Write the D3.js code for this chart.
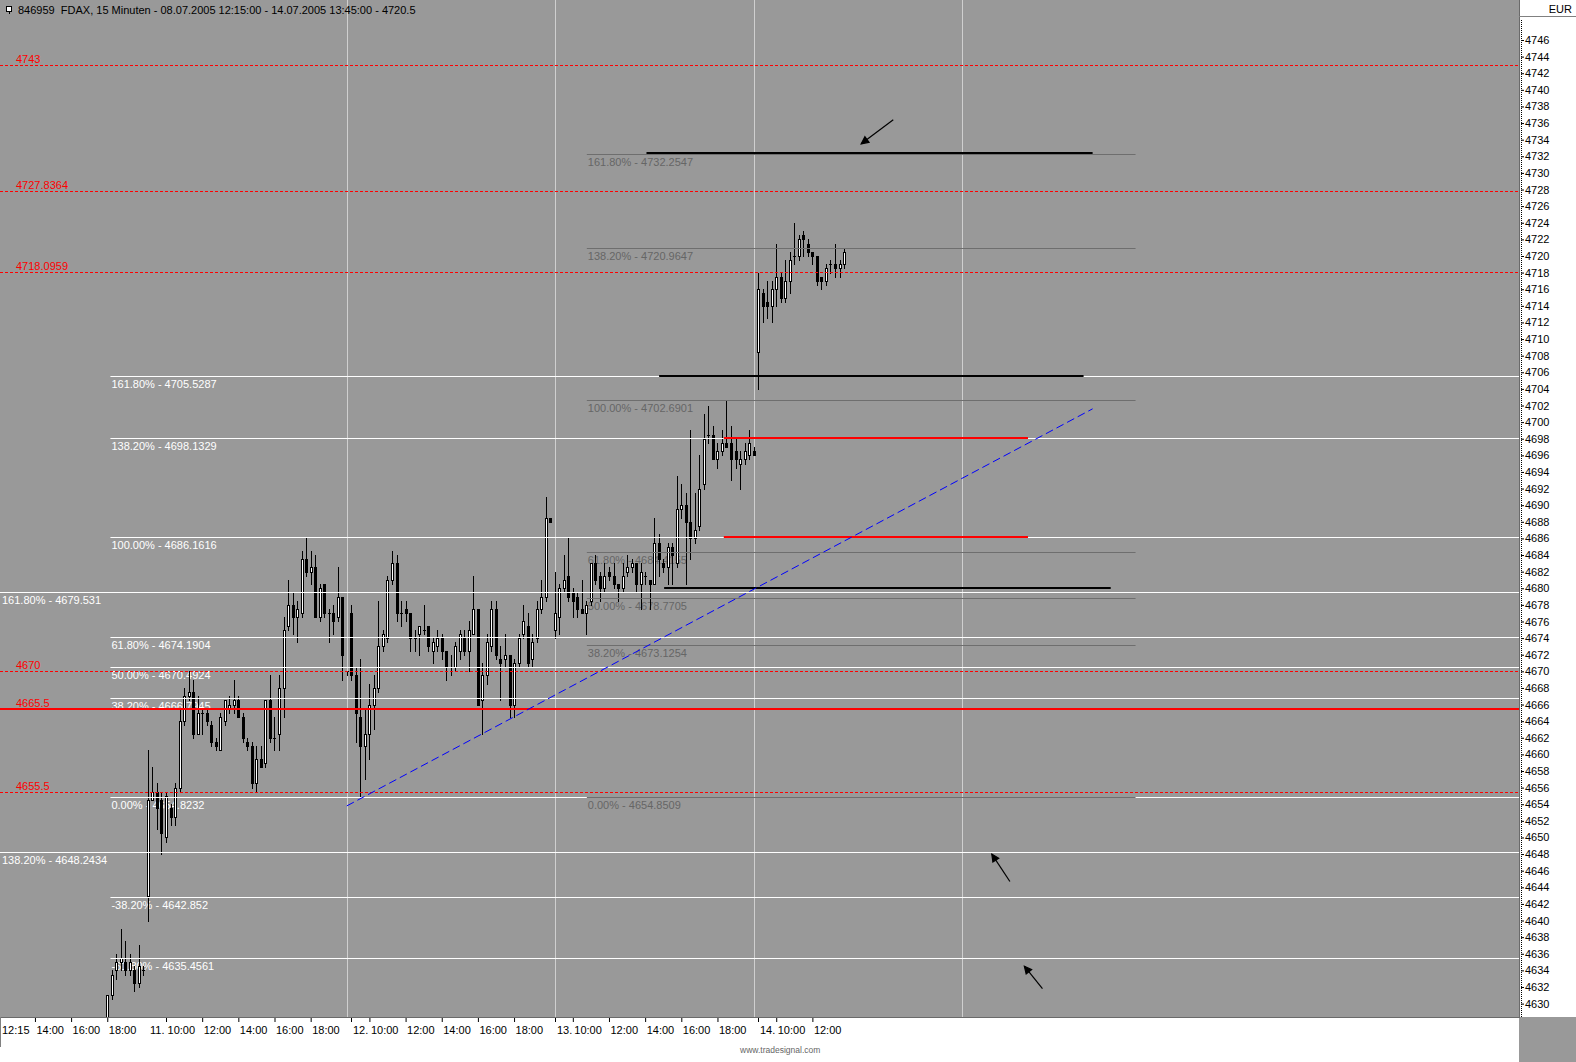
<!DOCTYPE html>
<html>
<head>
<meta charset="utf-8">
<script src="https://cdn.jsdelivr.net/npm/d3@7"></script>
<style>
html, body { margin: 0; padding: 0; background: #fff; overflow: hidden; }
svg { display: block; font-family: "Liberation Sans", Arial, sans-serif; }
</style>
</head>
<body>
<div class="chart"></div>
<script>
//----Data----
// 15 minute FDAX bars as [open, high, low, close]
// bar index 0 = 08.07 12:15, a full session is 09:00 - 20:00 (45 bars)
const firstBar = 23; // 08.07 18:00, earlier bars are below the visible range

const day08 = [
  [4627.5,4631,4625.5,4631],[4631,4634,4630.5,4633.5],[4634,4636,4633,4635],[4635,4639,4634,4635.5],
  [4635,4637.5,4633.5,4634],[4634,4636,4633.5,4635],[4634,4634.5,4631.5,4632.5],[4632.5,4637,4632,4634.5],
  [4634,4634.5,4633.5,4634]
];
const day11 = [
  [4643,4660.5,4640,4654.5],[4654.5,4658.5,4654.5,4655.5],[4655.5,4656.5,4651,4653.5],[4654.5,4655.5,4648,4650.5],
  [4650,4655.5,4649.5,4655],[4653.5,4654,4651.5,4652.5],[4652.5,4656.5,4651.5,4656],[4656,4665.5,4655.5,4664],
  [4664,4668,4663.5,4667],[4667,4670,4666.5,4667.5],[4667.5,4669,4662,4662.5],[4662.5,4667,4662.5,4665],
  [4665,4665.5,4662.5,4665],[4665,4665.5,4663.5,4664],[4663.5,4664,4661,4661.5],[4661.5,4662,4660.5,4661],
  [4660.5,4665,4660.5,4664.5],[4664,4666.5,4663.5,4666.5],[4665.5,4667,4665,4666],[4666,4669,4665,4666.5],
  [4666.5,4667,4664.5,4664.5],[4664.5,4665,4661.5,4662],[4661.5,4662,4660.5,4661],[4661,4661.5,4656,4656.5],
  [4656.5,4661,4655.5,4659.5],[4659.5,4661,4658.5,4658.5],[4659,4666.5,4658.5,4666.5],[4666.5,4669.5,4661.5,4662],
  [4662,4664.5,4660.5,4662],[4662.5,4669.5,4660.5,4668],[4668,4676.5,4664.5,4675],[4675.5,4681,4675,4678],
  [4678,4679.5,4674.5,4676.5],[4676.5,4678.5,4673.5,4677.5],[4677,4684.5,4676.5,4683.5],[4683.5,4686,4681.5,4682],
  [4682,4684.5,4680.5,4682.5],[4682.5,4684,4676.5,4676.5],[4676.5,4680.5,4676,4680],[4680.5,4680.5,4676.5,4677],
  [4677,4677.5,4673.5,4677],[4677,4678,4674.5,4676],[4676.5,4682.5,4676,4679],[4679,4679,4669,4672],
  [4670,4670,4669.5,4670]
];
const day12 = [
  [4677,4678,4669,4669.5],[4669.5,4670.5,4661.5,4665],[4664.5,4671.5,4655,4661],[4661,4665.5,4657,4662.5],
  [4662.5,4668.5,4659.5,4666],[4666,4669.5,4663,4668],[4668,4678.5,4667.5,4673],[4673,4675,4672.5,4674.5],
  [4674,4681.5,4673.5,4681],[4681,4684.5,4680.5,4683],[4683,4684,4676,4677],[4677,4678.5,4675.5,4677],
  [4677.5,4678.5,4676,4677],[4677,4677,4672.5,4674],[4674,4675,4672.5,4674],[4674.5,4675.5,4672,4675.5],
  [4675,4678,4674.5,4675],[4675.5,4675.5,4672.5,4673],[4672.5,4674,4671,4673.5],[4673,4675,4672.5,4674],
  [4674,4674.5,4671.5,4672.5],[4672.5,4672.5,4669,4670.5],[4670.5,4672,4669.5,4670.5],[4670.5,4673.5,4670,4673],
  [4672.5,4675,4671.5,4674.5],[4674,4675,4672,4672.5],[4672.5,4676,4670,4675],[4674.5,4681.5,4674.5,4677.5],
  [4677.5,4677.5,4666,4666],[4666.5,4671,4662.5,4669.5],[4669.5,4674.5,4668.5,4673.5],[4673,4678.5,4672.5,4677.5],
  [4677.5,4678.5,4671.5,4672],[4671.5,4673,4666.5,4671],[4671.5,4674.5,4670.5,4672],[4672,4672,4664.5,4666],
  [4666,4671.5,4664.5,4671],[4671,4674.5,4670.5,4674],[4674.5,4678,4674,4676],[4675.5,4677,4670.5,4671],
  [4671.5,4674.5,4670.5,4673.5],[4674,4678.5,4673.5,4677.5],[4677.5,4681,4677,4679],[4679,4691,4678.5,4688.5],
  [4688.5,4688.5,4688,4688]
];
const day13 = [
  [4675,4682,4674,4677],[4676.5,4680.5,4674.5,4680],[4680,4684,4679.5,4681],[4681.5,4686,4678.5,4679],
  [4679.5,4680,4676.5,4678.5],[4679,4679.5,4676.5,4677.5],[4677.5,4681,4677,4677],[4677,4678.5,4674.5,4678],
  [4678.5,4683,4678,4683],[4683,4684,4680.5,4681],[4681.5,4682,4678.5,4680],[4680,4683,4679.5,4681.5],
  [4682,4682.5,4681,4681.5],[4681.5,4683,4680,4680.5],[4680.5,4680.5,4678.5,4680],[4680,4683,4679.5,4681.5],
  [4682,4684,4681.5,4682.5],[4682.5,4683.5,4682,4683],[4683,4683,4679.5,4680.5],[4680.5,4683,4677.5,4682],
  [4681.5,4682,4680.5,4681.5],[4681,4681,4677.5,4680.5],[4680.5,4688.5,4680.5,4685.5],[4685.5,4686.5,4681.5,4683.5],
  [4683,4683.5,4682,4682.5],[4682.5,4685.5,4680.5,4685],[4685,4685.5,4680.5,4684],[4683,4693.5,4682.5,4689.5],
  [4689.5,4692.5,4688.5,4690],[4690,4691.5,4680.5,4688],[4688,4699,4683.5,4686],[4686,4691.5,4685.5,4687],
  [4687.5,4696,4687,4692],[4692.5,4701,4692,4698],[4698.5,4702,4697.5,4698.5],[4698.5,4699.5,4695.5,4695.5],
  [4695.5,4697.5,4694.5,4696.5],[4696.5,4699,4696,4697.5],[4697.5,4702.5,4697,4697],[4697.5,4699.5,4693,4695.5],
  [4696.5,4698,4694.5,4695.5],[4695,4696.5,4692,4695.5],[4695.5,4697.5,4695,4696.5],[4696,4699,4695.5,4697.5],
  [4696.5,4697,4696,4696]
];
const day14 = [
  [4708.5,4718,4704,4716],[4715.5,4716,4712,4714],[4714.5,4717,4712.5,4714],[4714,4717,4712,4716],
  [4716,4721.5,4714,4717.5],[4717.5,4718,4714.5,4715],[4715,4719.5,4714.5,4717],[4717,4720.5,4715.5,4719.5],
  [4720,4724,4719,4720],[4720,4722.5,4719.5,4722],[4722.5,4723,4720,4722],[4721.5,4722,4720,4720.5],
  [4720.5,4720.5,4719,4720],[4720,4720,4716.5,4717],[4717.5,4717.5,4716,4717],[4717,4719,4716.5,4718.5],
  [4719,4719.5,4718,4719],[4719,4721.5,4717.5,4718.5],[4718.5,4719.5,4717.5,4719],[4719,4721,4718.5,4720.5]
];

// price axis
const priceTicks = d3.range(4630, 4747, 2);

// time axis (bar index + label)
const hourIdx    = [7, 15, 23, 36, 44, 52, 60, 68, 81, 89, 97, 105, 113, 126, 134, 142, 150, 158, 171, 179];
const hourLabels = ["14:00","16:00","18:00","10:00","12:00","14:00","16:00","18:00","10:00","12:00",
                    "14:00","16:00","18:00","10:00","12:00","14:00","16:00","18:00","10:00","12:00"];
const dayIdx     = [0, 32, 77, 122, 167];
const dayLabels  = ["12:15", "11.", "12.", "13.", "14."];
const dayTickIdx = [77, 122, 167];
const sessionLines = [76, 122, 166, 212];

// horizontal price marks (red)
const redLevels = [4743, 4727.8364, 4718.0959, 4670, 4665.5, 4655.5];
const redSolid  = [false, false, false, false, true, false];

// fibonacci sets
const fibA_pct = ["161.80%","138.20%","100.00%","61.80%","50.00%","38.20%","0.00%","-38.20%","-61.80%"];
const fibA_val = [4705.5287, 4698.1329, 4686.1616, 4674.1904, 4670.4924, 4666.7945, 4654.8232, 4642.852, 4635.4561];
const fibA_from = 23.7;
const fibB_pct = ["161.80%","138.20%"];
const fibB_val = [4679.531, 4648.2434];
const fibB_from = -0.75;
const fibC_pct = ["161.80%","138.20%","100.00%","61.80%","50.00%","38.20%","0.00%"];
const fibC_val = [4732.2547, 4720.9647, 4702.6901, 4684.4155, 4678.7705, 4673.1254, 4654.8509];
const fibC_from = 129.1, fibC_to = 250.5;

// drawn segments [fromBar, toBar, price]
const blackSegs = [[142.3, 241, 4732.4], [145.1, 239, 4705.5], [146.2, 245, 4680]];
const redSegs   = [[159.4, 226.7, 4698.1], [159.4, 226.7, 4686.2]];
// trend line [bar, price] -> [bar, price]
const trend = [[76, 4653.8], [241, 4701.6]];
// arrows [fromBar, fromPrice, toBar, toPrice]
const arrows = [[196.9, 4736.4, 189.8, 4733.5], [222.7, 4644.7, 218.7, 4648.0], [229.9, 4631.8, 225.9, 4634.5]];

const title = "846959  FDAX, 15 Minuten - 08.07.2005 12:15:00 - 14.07.2005 13:45:00 - 4720.5";

//----Chart----
const W = 1576, H = 1062;
const plotR = 1519, plotB = 1017;

const svg = d3.select(".chart").append("svg")
  .attr("width", W)
  .attr("height", H);

const xScale = d3.scaleLinear().domain([0, 335]).range([3.3, 3.3 + 335 * 4.52]);
const yScale = d3.scaleLinear().domain([4630, 4746]).range([1003.6, 40]);

// panels
svg.append("rect").attr("x", 0).attr("y", 0).attr("width", plotR).attr("height", plotB).attr("fill", "#999999");
svg.append("rect").attr("x", plotR).attr("y", 0).attr("width", W - plotR).attr("height", plotB).attr("fill", "#ffffff");
svg.append("rect").attr("x", 0).attr("y", plotB).attr("width", plotR).attr("height", H - plotB).attr("fill", "#ffffff");
svg.append("rect").attr("x", plotR).attr("y", plotB).attr("width", W - plotR).attr("height", H - plotB).attr("fill", "#999999");

svg.append("clipPath").attr("id", "plotclip")
  .append("rect").attr("x", 0).attr("y", 0).attr("width", plotR).attr("height", plotB);

const plot = svg.append("g").attr("clip-path", "url(#plotclip)");

// session separators
plot.selectAll(".sess").data(sessionLines).enter().append("line")
  .attr("x1", d => Math.round(xScale(d)) + 0.5).attr("x2", d => Math.round(xScale(d)) + 0.5)
  .attr("y1", 0).attr("y2", plotB)
  .attr("stroke", "#cfcfcf").attr("stroke-width", 1);

const py = v => Math.round(yScale(v)) + 0.5;

// fib labels (under the candles)
function fibLabels(pcts, vals, from, color) {
  plot.append("g").selectAll("text").data(vals).enter().append("text")
    .attr("x", Math.max(2, xScale(from) + 1))
    .attr("y", d => py(d) + 11.5)
    .attr("fill", color)
    .attr("font-size", "11px")
    .text((d, i) => pcts[i] + " - " + d);
}
fibLabels(fibA_pct, fibA_val, fibA_from, "#ffffff");
fibLabels(fibB_pct, fibB_val, fibB_from, "#ffffff");
fibLabels(fibC_pct, fibC_val, fibC_from, "#666666");

// red level labels
plot.append("g").selectAll("text").data(redLevels).enter().append("text")
  .attr("x", 16)
  .attr("y", d => py(d) - 3)
  .attr("fill", "#ff0000")
  .attr("font-size", "11px")
  .text(d => d);

// candles
const days = [day08, day11, day12, day13, day14];
const dayFirst = [firstBar, 32, 77, 122, 167];
const bars = [];
days.forEach((rows, k) => rows.forEach((r, j) => bars.push({i: dayFirst[k] + j, o: r[0], h: r[1], l: r[2], c: r[3]})));

const cg = plot.append("g").attr("shape-rendering", "crispEdges");
bars.forEach(b => {
  const cx = Math.round(xScale(b.i));
  const yh = Math.round(yScale(b.h)), yl = Math.round(yScale(b.l));
  const top = Math.round(yScale(Math.max(b.o, b.c)));
  const bot = Math.round(yScale(Math.min(b.o, b.c)));
  cg.append("rect").attr("x", cx).attr("y", yh).attr("width", 1).attr("height", Math.max(1, yl - yh + 1)).attr("fill", "#000");
  cg.append("rect").attr("x", cx - 1).attr("y", top).attr("width", 3).attr("height", Math.max(1, bot - top + 1)).attr("fill", "#000");
  if (b.c > b.o && bot - top >= 2) {
    cg.append("rect").attr("x", cx).attr("y", top + 1).attr("width", 1).attr("height", bot - top - 1).attr("fill", "#fff");
  }
});

// fib lines
function fibLines(vals, from, to, color) {
  plot.append("g").selectAll("line").data(vals).enter().append("line")
    .attr("x1", from == null ? 0 : xScale(from))
    .attr("x2", to == null ? plotR : xScale(to))
    .attr("y1", d => py(d)).attr("y2", d => py(d))
    .attr("stroke", color).attr("stroke-width", 1);
}
fibLines(fibB_val, null, null, "#ffffff");
fibLines(fibA_val, fibA_from, null, "#ffffff");
fibLines(fibC_val, fibC_from, fibC_to, "#6e6e6e");

// red levels
plot.append("g").selectAll("line").data(redLevels).enter().append("line")
  .attr("x1", 0).attr("x2", plotR)
  .attr("y1", (d, i) => redSolid[i] ? Math.round(yScale(d)) : py(d))
  .attr("y2", (d, i) => redSolid[i] ? Math.round(yScale(d)) : py(d))
  .attr("stroke", "#ff0000")
  .attr("stroke-width", (d, i) => redSolid[i] ? 2 : 1)
  .attr("stroke-dasharray", (d, i) => redSolid[i] ? null : "3,2");

// drawn segments
plot.append("g").selectAll("line").data(blackSegs).enter().append("line")
  .attr("x1", d => xScale(d[0])).attr("x2", d => xScale(d[1]))
  .attr("y1", d => Math.round(yScale(d[2]))).attr("y2", d => Math.round(yScale(d[2])))
  .attr("stroke", "#000").attr("stroke-width", 2);

plot.append("g").selectAll("line").data(redSegs).enter().append("line")
  .attr("x1", d => xScale(d[0])).attr("x2", d => xScale(d[1]))
  .attr("y1", d => Math.round(yScale(d[2]))).attr("y2", d => Math.round(yScale(d[2])))
  .attr("stroke", "#ff0000").attr("stroke-width", 2);

plot.append("line")
  .attr("x1", xScale(trend[0][0])).attr("y1", yScale(trend[0][1]))
  .attr("x2", xScale(trend[1][0])).attr("y2", yScale(trend[1][1]))
  .attr("stroke", "#0000ff").attr("stroke-width", 1).attr("stroke-dasharray", "8,4");

arrows.forEach(a => {
  const x1 = xScale(a[0]), y1 = yScale(a[1]), x2 = xScale(a[2]), y2 = yScale(a[3]);
  const ang = Math.atan2(y2 - y1, x2 - x1);
  const g = plot.append("g").attr("stroke", "#000").attr("stroke-width", 1.2).attr("fill", "none");
  g.append("line").attr("x1", x1).attr("y1", y1).attr("x2", x2).attr("y2", y2);
  const hl = 8, sp = 0.45;
  g.append("path")
    .attr("fill", "#000")
    .attr("d", "M" + (x2 - hl * Math.cos(ang - sp)) + "," + (y2 - hl * Math.sin(ang - sp)) +
               "L" + x2 + "," + y2 +
               "L" + (x2 - hl * Math.cos(ang + sp)) + "," + (y2 - hl * Math.sin(ang + sp)) + "Z");
});

// frame
svg.append("line").attr("x1", plotR + 0.5).attr("x2", plotR + 0.5).attr("y1", 0).attr("y2", plotB)
  .attr("stroke", "#6a6a6a");
svg.append("line").attr("x1", 0).attr("x2", plotR + 1).attr("y1", plotB + 0.5).attr("y2", plotB + 0.5)
  .attr("stroke", "#6a6a6a");
svg.append("line").attr("x1", plotR).attr("x2", W).attr("y1", 16.5).attr("y2", 16.5)
  .attr("stroke", "#808080");
svg.append("line").attr("x1", 0.5).attr("x2", 0.5).attr("y1", plotB).attr("y2", plotB + 30)
  .attr("stroke", "#808080");

svg.append("text").attr("x", W - 4).attr("y", 12.5).attr("text-anchor", "end")
  .attr("font-size", "11px").attr("fill", "#000").text("EUR");

// price axis
const yAxis = d3.axisRight(yScale)
  .tickValues(priceTicks)
  .tickSize(3)
  .tickFormat(d3.format("d"));

const ya = svg.append("g")
  .attr("class", "axis y-axis")
  .attr("transform", `translate(${plotR + 2}, 0)`)
  .call(yAxis);
ya.select(".domain").remove();
ya.selectAll("text").attr("x", 4).attr("font-size", "11px").attr("font-family", "Liberation Sans, Arial").attr("fill", "#000");
ya.append("line").attr("x1", 0.5).attr("x2", 0.5).attr("y1", 20).attr("y2", plotB)
  .attr("stroke", "#000").attr("stroke-dasharray", "1,1");

// time axis
const xAxis = d3.axisBottom(xScale)
  .tickValues(hourIdx)
  .tickSize(4)
  .tickFormat((d, i) => hourLabels[i]);

const xa = svg.append("g")
  .attr("class", "axis x-axis")
  .attr("transform", `translate(0, ${plotB + 1})`)
  .call(xAxis);
xa.select(".domain").remove();
xa.selectAll("text").attr("text-anchor", "start").attr("x", 1).attr("y", 8).attr("dy", "0.71em")
  .attr("font-size", "11px").attr("font-family", "Liberation Sans, Arial").attr("fill", "#000");

xa.selectAll(".daytick").data(dayTickIdx).enter().append("line")
  .attr("x1", d => Math.round(xScale(d)) + 0.5).attr("x2", d => Math.round(xScale(d)) + 0.5)
  .attr("y1", 0).attr("y2", 4).attr("stroke", "#000");
xa.selectAll(".daylabel").data(dayIdx).enter().append("text")
  .attr("x", (d, i) => i === 0 ? 2 : Math.round(xScale(d)) + 2)
  .attr("y", 8).attr("dy", "0.71em")
  .attr("text-anchor", "start")
  .attr("font-size", "11px").attr("font-family", "Liberation Sans, Arial").attr("fill", "#000")
  .text((d, i) => dayLabels[i]);

// title
svg.append("rect").attr("x", 6.5).attr("y", 6.5).attr("width", 5).attr("height", 5)
  .attr("fill", "#fff").attr("stroke", "#000");
svg.append("line").attr("x1", 9.5).attr("x2", 9.5).attr("y1", 12).attr("y2", 14).attr("stroke", "#000");
svg.append("text").attr("x", 18).attr("y", 14)
  .attr("font-size", "11px").attr("fill", "#000")
  .style("white-space", "pre")
  .text(title);

svg.append("text").attr("x", 740).attr("y", 1053)
  .attr("font-size", "8.5px").attr("fill", "#666").text("www.tradesignal.com");
</script>
</body>
</html>
